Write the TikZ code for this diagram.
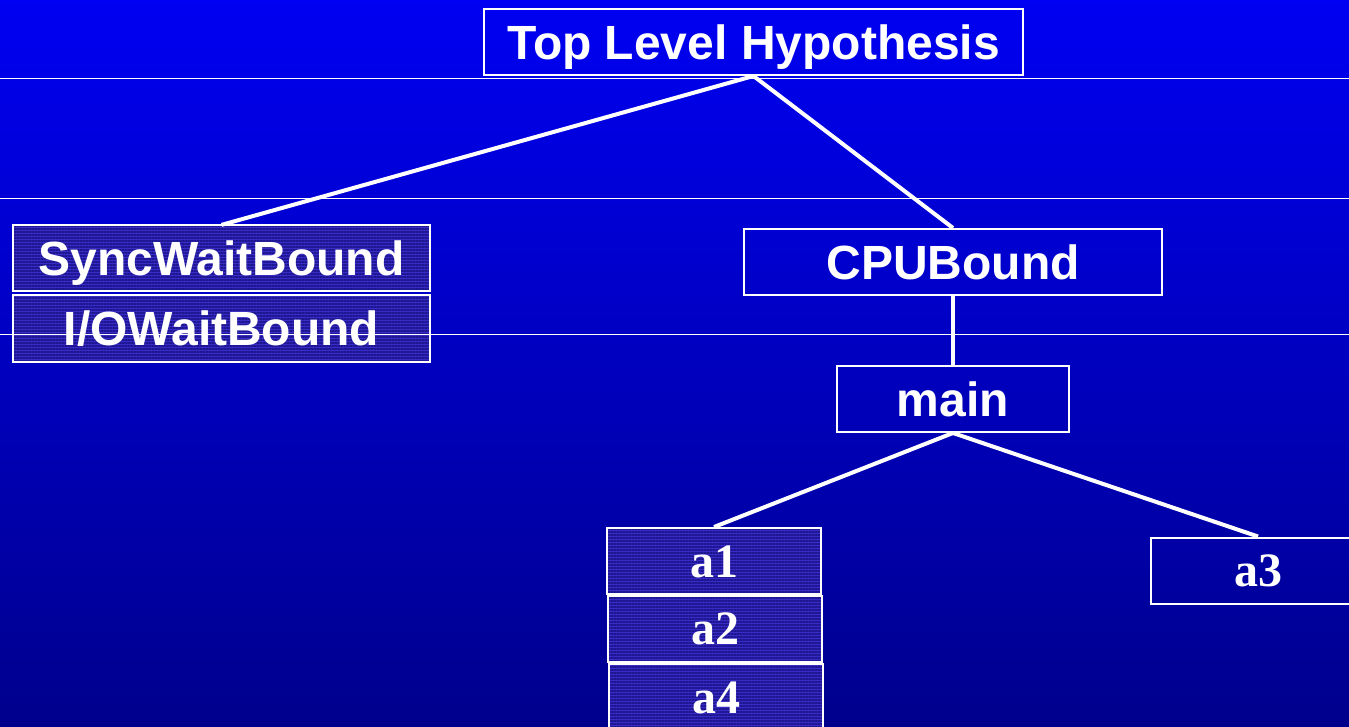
\documentclass[tikz,border=0pt]{standalone}
\usepackage{fontspec}
\setmainfont{Liberation Sans}
\newfontfamily\romanbold{Liberation Serif}
\usepackage{tikz}
\usetikzlibrary{patterns.meta}
\definecolor{SlideTop}{HTML}{0000F2}
\definecolor{SlideBottom}{HTML}{00008C}
\definecolor{HatchFill}{HTML}{3A2BC6}
\definecolor{HatchLine}{HTML}{1C1690}

\tikzset{
  hyp/.style={draw=white, line width=1pt, inner sep=0pt, minimum height=33pt,
    text height=17.2pt, text depth=0pt,
    text=white, font=\fontsize{24}{28}\selectfont\bfseries},
  leaf/.style={hyp, text height=16.2pt,
    font=\fontsize{24}{28}\selectfont\romanbold\bfseries},
  hatched/.style={preaction={fill=HatchFill},
    pattern={Lines[angle=0, distance=1.5pt, line width=0.6pt]}, pattern color=HatchLine},
  branch/.style={white, line width=2pt}
}

\begin{document}
\begin{tikzpicture}[x=0.5pt, y=-0.5pt]
  \useasboundingbox (0,0) rectangle (1349,727);
  \clip (0,0) rectangle (1349,727);
  \shade[top color=SlideTop, bottom color=SlideBottom] (0,0) rectangle (1349,727);

  % hypotheses
  \node[hyp, minimum width=269.5pt] (top) at (753.5,42) {Top Level Hypothesis};
  \node[hyp, hatched, minimum width=208.5pt] (sync) at (221.5,258.5) {SyncWaitBound};
  \node[hyp, hatched, minimum width=208.5pt] (iowait) at (221.5,328.5) {I/OWaitBound};
  \node[hyp, minimum width=209pt] (cpu) at (953,262) {CPUBound};
  \node[hyp, minimum width=116pt] (main) at (953,399) {main};

  % leaves
  \node[leaf, hatched, minimum width=107pt] (aone) at (714,561) {a1};
  \node[leaf, hatched, minimum width=107pt] (atwo) at (715,628.5) {a2};
  \node[leaf, hatched, minimum width=107pt] (afour) at (716,697) {a4};
  \node[leaf, minimum width=107pt] (athree) at (1258,570.5) {a3};

  \draw[branch] (top.south) -- (sync.north);
  \draw[branch] (top.south) -- (cpu.north);
  \draw[branch] (cpu.south) -- (main.north);
  \draw[branch] (main.south) -- (aone.north);
  \draw[branch] (main.south) -- (athree.north);

  % slide rules
  \foreach \y in {79,199,334}
    \draw[white, line width=0.5pt] (0,\y) -- (1349,\y);
\end{tikzpicture}
\end{document}
